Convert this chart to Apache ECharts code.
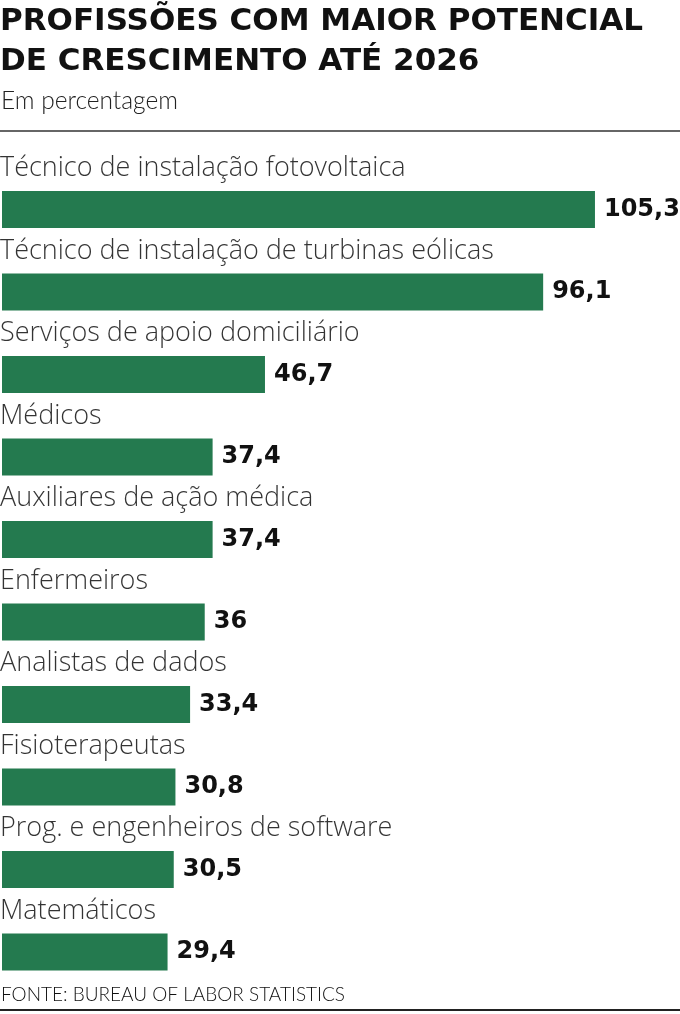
<!DOCTYPE html>
<html><head><meta charset="utf-8">
<script src="https://cdn.jsdelivr.net/npm/echarts@6/dist/echarts.min.js"></script>
<style>html,body{margin:0;padding:0;background:#fff}#c{width:680px;height:1014px}</style>
</head><body><div id="c"></div>
<script>
const categories = ["Técnico de instalação fotovoltaica","Técnico de instalação de turbinas eólicas","Serviços de apoio domiciliário","Médicos","Auxiliares de ação médica","Enfermeiros","Analistas de dados","Fisioterapeutas","Prog. e engenheiros de software","Matemáticos"];
const values = [105.3, 96.1, 46.7, 37.4, 37.4, 36, 33.4, 30.8, 30.5, 29.4];
const titleLines = ["PROFISSÕES COM MAIOR POTENCIAL", "DE CRESCIMENTO ATÉ 2026"];
const subtitle = "Em percentagem";
const source = "FONTE: BUREAU OF LABOR STATISTICS";

const chart = echarts.init(document.getElementById('c'), null, {renderer:'canvas'});
const fmt = v => String(v).replace('.', ',');
chart.setOption({
  animation:false,
  grid:{left:2, right:0, top:168.25, height:825},
  xAxis:{type:'value', min:0, max:120.4, show:false},
  yAxis:{type:'category', data:categories, inverse:true, show:false},
  graphic:[
    {type:'text', left:0, top:2, style:{text:titleLines.join('\n'), font:'bold 31px "DejaVu Sans"', fill:'#111', lineHeight:40}},
    {type:'text', left:1, top:89, style:{text:subtitle, font:'300 24.5px Lato', fill:'#222'}},
    {type:'rect', shape:{x:0,y:130,width:680,height:2}, style:{fill:'#666'}},
    {type:'text', left:1, top:985, style:{text:source, font:'300 19px Lato', fill:'#111'}},
    {type:'rect', shape:{x:0,y:1009,width:680,height:2}, style:{fill:'#222'}}
  ],
  series:[
    {type:'bar', data:values, barWidth:37, itemStyle:{color:'#247a4f'},
     label:{show:true, position:'right', distance:9, formatter:p=>fmt(p.value), fontFamily:'"DejaVu Sans"', fontWeight:'bold', fontSize:24, color:'#111'}},
    {type:'scatter', data:categories.map((c,i)=>[0,i]), symbolSize:0, silent:true,
     label:{show:true, position:'right', distance:0, offset:[-2,-41], formatter:p=>categories[p.dataIndex], fontFamily:'"Open Sans"', fontWeight:300, fontSize:27, color:'#000'}}
  ]
});
</script></body></html>
